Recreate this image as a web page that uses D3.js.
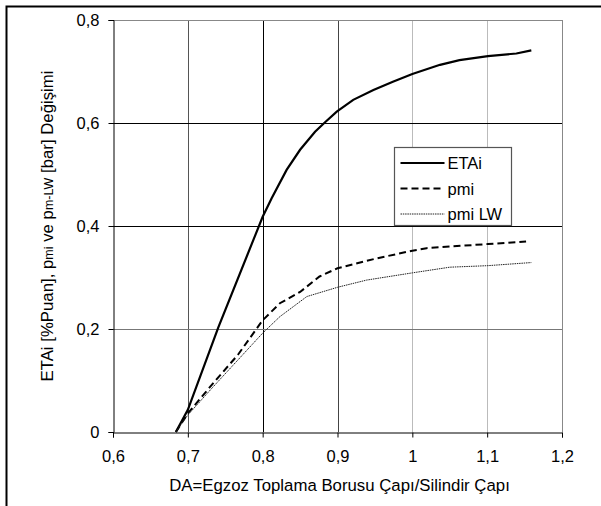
<!DOCTYPE html>
<html>
<head>
<meta charset="utf-8">
<script src="https://cdn.jsdelivr.net/npm/d3@7"></script>
<style>
  body { margin: 0; background: #fff; }
  text { font-family: "Liberation Sans", Arial, sans-serif; }
</style>
</head>
<body>
<div class="graph"></div>
<script>
// values
var xTicks = [0.6, 0.7, 0.8, 0.9, 1.0, 1.1, 1.2];
var yTicks = [0, 0.2, 0.4, 0.6, 0.8];

var etaiX = [0.684, 0.7, 0.741, 0.8, 0.812, 0.832, 0.85, 0.87, 0.883, 0.899, 0.921, 0.948, 0.974, 1.0, 1.037, 1.063, 1.101, 1.139, 1.159];
var etaiY = [0, 0.043, 0.204, 0.418, 0.454, 0.509, 0.548, 0.583, 0.601, 0.622, 0.645, 0.664, 0.68, 0.695, 0.713, 0.722, 0.73, 0.735, 0.741];

var pmiX = [0.684, 0.7, 0.734, 0.767, 0.8, 0.823, 0.85, 0.876, 0.9, 0.952, 1.0, 1.019, 1.101, 1.152];
var pmiY = [0, 0.036, 0.095, 0.15, 0.217, 0.25, 0.272, 0.302, 0.318, 0.337, 0.352, 0.357, 0.365, 0.37];

var lwX = [0.684, 0.7, 0.734, 0.8, 0.823, 0.859, 0.9, 0.939, 1.0, 1.05, 1.101, 1.159];
var lwY = [0, 0.033, 0.088, 0.192, 0.224, 0.263, 0.281, 0.295, 0.309, 0.32, 0.323, 0.329];

var seriesNames = ["ETAi", "pmi", "pmi LW"];

// grid line colours (as they look in the picture)
var xGridColor = ["#000", "#555", "#000", "#444", "#bbb", "#bbb", "#888"];
var yGridColor = ["#000", "#777", "#000", "#000", "#888"];

var width = 601, height = 506;
var margin = {top: 20, left: 113, right: 39, bottom: 74};
var fontSize = 16;

var svg = d3.select(".graph").append("svg")
  .attr("width", width)
  .attr("height", height);

// outer frame
svg.append("rect")
  .attr("x", 6.5).attr("y", 6.5)
  .attr("width", 620).attr("height", 520)
  .attr("fill", "none").attr("stroke", "#000").attr("stroke-width", 2);

var x = d3.scaleLinear().domain([0.6, 1.2]).range([margin.left, width - margin.right]);
var y = d3.scaleLinear().domain([0, 0.8]).range([height - margin.bottom, margin.top]);

// grid
svg.append("g").selectAll("line")
  .data(xTicks.slice(1))
  .enter().append("line")
  .attr("x1", d => Math.round(x(d)) + 0.5).attr("x2", d => Math.round(x(d)) + 0.5)
  .attr("y1", y(0)).attr("y2", y(0.8))
  .attr("stroke", (d, i) => xGridColor[i + 1]);

svg.append("g").selectAll("line")
  .data(yTicks.slice(1))
  .enter().append("line")
  .attr("x1", x(0.6)).attr("x2", x(1.2))
  .attr("y1", d => Math.round(y(d)) + 0.5).attr("y2", d => Math.round(y(d)) + 0.5)
  .attr("stroke", (d, i) => yGridColor[i + 1]);

// axes
var xAxis = svg.append("g")
  .attr("transform", "translate(0," + (Math.round(y(0)) + 0.5) + ")")
  .call(d3.axisBottom(x).tickValues(xTicks).tickSize(5).tickPadding(13)
    .tickFormat(d => String(d).replace(".", ",")));
var yAxis = svg.append("g")
  .attr("transform", "translate(" + (Math.round(x(0.6)) + 0.5) + ",0)")
  .call(d3.axisLeft(y).tickValues(yTicks).tickSize(5).tickPadding(9)
    .tickFormat(d => d === 0 ? "0" : d3.format(".1f")(d).replace(".", ",")));

[xAxis, yAxis].forEach(function(a) {
  a.select(".domain").attr("stroke", "#000");
  a.selectAll(".tick line").attr("stroke", "#000");
  a.selectAll("text").attr("font-size", 16.5).attr("fill", "#000")
    .style("font-family", "'Liberation Sans', Arial, sans-serif");
});

// lines
var line = d3.line().x(d => x(d[0])).y(d => y(d[1]));

svg.append("path")
  .datum(d3.zip(etaiX, etaiY))
  .attr("fill", "none").attr("stroke", "#000").attr("stroke-width", 2.2)
  .attr("d", line);

svg.append("path")
  .datum(d3.zip(pmiX, pmiY))
  .attr("fill", "none").attr("stroke", "#000").attr("stroke-width", 2)
  .attr("stroke-dasharray", "7,4")
  .attr("d", line);

svg.append("path")
  .datum(d3.zip(lwX, lwY))
  .attr("fill", "none").attr("stroke", "#222").attr("stroke-width", 1)
  .attr("stroke-dasharray", "1.5,0.8")
  .attr("d", line);

// legend
var lg = svg.append("g").attr("transform", "translate(394.5,147.5)");
lg.append("rect")
  .attr("width", 117).attr("height", 78)
  .attr("fill", "#fff").attr("stroke", "#555").attr("stroke-width", 1.2);

var legendStyle = [
  {w: 2.2, dash: null, c: "#000"},
  {w: 2, dash: "7,4", c: "#000"},
  {w: 1, dash: "1.5,0.8", c: "#222"}
];
var le = lg.selectAll(".legend")
  .data(seriesNames)
  .enter().append("g")
  .attr("transform", (d, i) => "translate(0," + (15.5 + 25.5 * i) + ")");
le.append("line")
  .attr("x1", 6).attr("x2", 50)
  .attr("stroke", (d, i) => legendStyle[i].c)
  .attr("stroke-width", (d, i) => legendStyle[i].w)
  .attr("stroke-dasharray", (d, i) => legendStyle[i].dash);
le.append("text")
  .attr("x", 53).attr("y", 6)
  .attr("font-size", 16.5)
  .text(d => d);

// axis titles
svg.append("text")
  .attr("x", x(0.9) + 2).attr("y", 491)
  .attr("text-anchor", "middle")
  .attr("font-size", 16.8)
  .text("DA=Egzoz Toplama Borusu Çapı/Silindir Çapı");

var yt = svg.append("text")
  .attr("transform", "translate(53,226) rotate(-90)")
  .attr("text-anchor", "middle")
  .attr("font-size", 16.8);
yt.append("tspan").text("ETAi [%Puan], p");
yt.append("tspan").attr("font-size", 12.5).text("mi");
yt.append("tspan").text(" ve  p");
yt.append("tspan").attr("font-size", 12.5).text("m-LW");
yt.append("tspan").text(" [bar] Değişimi");
</script>
</body>
</html>
